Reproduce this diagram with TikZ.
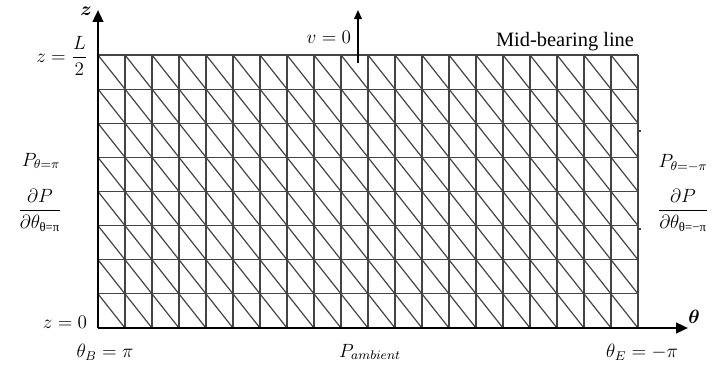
\documentclass[tikz,border=0pt]{standalone}
\usepackage{amsmath}
\usepackage{fontspec}
\setmainfont{Liberation Serif}
\usepackage{xcolor}
\usepackage{tikz}
\usetikzlibrary{arrows.meta, positioning}
\definecolor{ink}{HTML}{000000}
\definecolor{meshgrey}{HTML}{444444}
\tikzstyle{mesh} = [draw=meshgrey, line width=0.75pt]
\tikzstyle{axis} = [line width=1.5pt, -{Triangle[length=2.6mm, width=2.3mm]}, color=ink]
\tikzstyle{flow} = [line width=1.1pt, -{Triangle[length=2mm, width=1.7mm]}, color=ink]
\tikzstyle{tag} = [text=ink, font=\large, inner sep=1pt]

\begin{document}
\begin{tikzpicture}[x=0.022cm, y=-0.022cm]
\useasboundingbox (0,0) rectangle (714,370);

% mesh: 20 x 8 cells
\foreach \i in {0,...,19} {
  \foreach \j in {0,...,7} {
    \draw[mesh] ({98+27*\i},{55+34.125*\j}) -- ({98+27*(\i+1)},{55+34.125*(\j+1)});
  }
}
\foreach \i in {1,...,20} \draw[mesh] ({98+27*\i},55) -- ({98+27*\i},328);
\foreach \j in {0,...,7} \draw[mesh] (98,{55+34.125*\j}) -- (638,{55+34.125*\j});
\draw[mesh] (638,131) -- (641,131);
\draw[mesh] (638,229) -- (641,229);

% axes
\coordinate (O) at (98,328);
\coordinate (ztip) at (98,10);
\coordinate (ttip) at (688,328);
\coordinate (vfoot) at (358,63);
\coordinate (vtip) at (358,10);
\draw[axis] (O) -- (ztip);
\draw[axis] (O) -- (ttip);
\draw[flow] (vfoot) -- (vtip);

% labels
\node (zlab) [tag, anchor=base, inner sep=0pt] at (86,15) {$\boldsymbol{z}$};
\node (thlab) [tag] at (694,317) {$\boldsymbol{\theta}$};
\node (ztop) [tag] at (62,56) {$z=\dfrac{L}{2}$};
\node (zbot) [tag] at (65,322) {$z=0$};
\node (thB) [tag] at (105,352) {$\theta_B=\pi$};
\node (thE) [tag] at (642,352) {$\theta_E=-\pi$};
\node (pamb) [tag] at (370,352) {$P_{ambient}$};
\node (vlab) [tag, anchor=east] at (353,37) {$v=0$};
\node (mid) [tag, font=\fontsize{12.8}{15}\selectfont] at (565,42) {Mid-bearing line};
\node (pleft) [tag] at (41,161) {$P_{\theta=\pi}$};
\node (dleft) [tag] at (40,210) {$\dfrac{\partial P}{\partial\theta_{\text{θ=π}}}$};
\node (pright) [tag] at (683,163) {$P_{\theta=-\pi}$};
\node (dright) [tag] at (683,210) {$\dfrac{\partial P}{\partial\theta_{\text{θ=−π}}}$};
\end{tikzpicture}
\end{document}
